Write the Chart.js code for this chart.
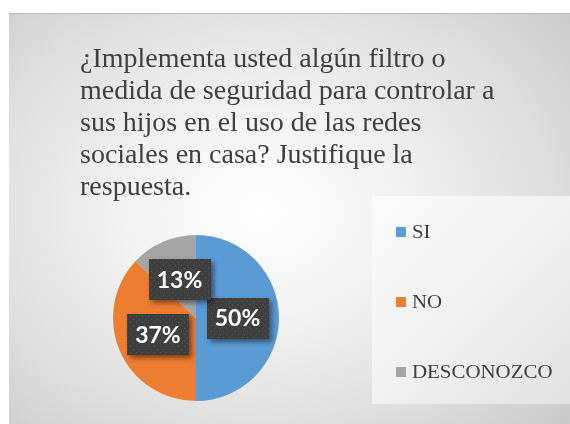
<!DOCTYPE html>
<html>
<head>
<meta charset="utf-8">
<script src="https://cdn.jsdelivr.net/npm/chart.js@4.4.0/dist/chart.umd.min.js"></script>
<style>
  body { margin: 0; background: #ffffff; }
  #panel { position: absolute; left: 9px; top: 13px; width: 561px; height: 411px;
    border-top: 1px solid #bdbdbd;
    background: radial-gradient(ellipse 75% 80% at 45% 48%, #ffffff 0%, #f3f3f3 30%, #e0e0e0 65%, #c8c8c8 100%); }
  #legendBox { position: absolute; left: 372px; top: 196px; width: 198px; height: 208px;
    background: linear-gradient(135deg, #fbfbfb 0%, #f1f1f1 50%, #e2e2e2 100%); }
  #c { position: absolute; left: 0; top: 0; }
</style>
</head>
<body>
<div id="panel"></div>
<div id="legendBox"></div>
<canvas id="c" width="570" height="424"></canvas>
<div id="title" style="position:absolute;left:80px;top:42px;font-family:'Times New Roman';font-size:28px;line-height:32px;color:#404040;white-space:nowrap;"></div>
<div id="legend"></div>
<script>
const titleLines = [
  "¿Implementa usted algún filtro o",
  "medida de seguridad para controlar a",
  "sus hijos en el uso de las redes",
  "sociales en casa? Justifique la",
  "respuesta."
];
const categories = ["SI", "NO", "DESCONOZCO"];
const values = [50, 37, 13];
const valueLabels = ["50%", "37%", "13%"];
const colors = ["#5B9BD5", "#ED7D31", "#A5A5A5"];

document.getElementById('title').innerHTML = titleLines.map(l => '<div>' + l + '</div>').join('');
const legendTops = [222, 292, 362];
document.getElementById('legend').innerHTML = categories.map((c, i) =>
  '<div style="position:absolute;left:396px;top:' + legendTops[i] + 'px;font-family:\'Times New Roman\';font-size:19px;line-height:19px;color:#404040;white-space:nowrap;">' +
  '<span style="display:inline-block;width:10px;height:10px;margin-right:6px;vertical-align:1px;background:' + colors[i] + '"></span>' +
  '<span style="display:inline-block;transform:scaleX(1.1);transform-origin:0 50%;">' + c + '</span></div>'
).join('');

function makePattern(ctx) {
  const p = document.createElement('canvas');
  p.width = 6; p.height = 6;
  const pc = p.getContext('2d');
  pc.fillStyle = '#3f3f3f';
  pc.fillRect(0, 0, 6, 6);
  pc.fillStyle = '#5a5a5a';
  pc.fillRect(1, 1, 1, 1);
  pc.fillRect(4, 4, 1, 1);
  return ctx.createPattern(p, 'repeat');
}

const labelPlugin = {
  id: 'boxLabels',
  afterDatasetsDraw(chart) {
    const ctx = chart.ctx;
    const meta = chart.getDatasetMeta(0);
    const pat = makePattern(ctx);
    ctx.save();
    ctx.font = 'bold 23px Lato';
    ctx.textAlign = 'center';
    ctx.textBaseline = 'middle';
    meta.data.forEach((arc, i) => {
      const pos = arc.tooltipPosition();
      const txt = valueLabels[i];
      const w = 62, h = 41;
      const x = Math.round(pos.x - w / 2), y = Math.round(pos.y - h / 2);
      ctx.save();
      ctx.shadowColor = 'rgba(0,0,0,0.45)';
      ctx.shadowBlur = 5;
      ctx.shadowOffsetX = 3;
      ctx.shadowOffsetY = 3;
      ctx.fillStyle = '#404040';
      ctx.fillRect(x, y, w, h);
      ctx.restore();
      ctx.fillStyle = pat;
      ctx.fillRect(x, y, w, h);
      ctx.fillStyle = '#ffffff';
      ctx.fillText(txt, pos.x, pos.y + 1);
    });
    ctx.restore();
  }
};

new Chart(document.getElementById('c'), {
  type: 'pie',
  data: {
    labels: categories,
    datasets: [{ data: values, backgroundColor: colors, borderWidth: 0 }]
  },
  options: {
    responsive: false,
    animation: false,
    layout: { padding: { left: 113, right: 291, top: 235, bottom: 23 } },
    plugins: { legend: { display: false }, title: { display: false }, tooltip: { enabled: false } }
  },
  plugins: [labelPlugin]
});
</script>
</body>
</html>
